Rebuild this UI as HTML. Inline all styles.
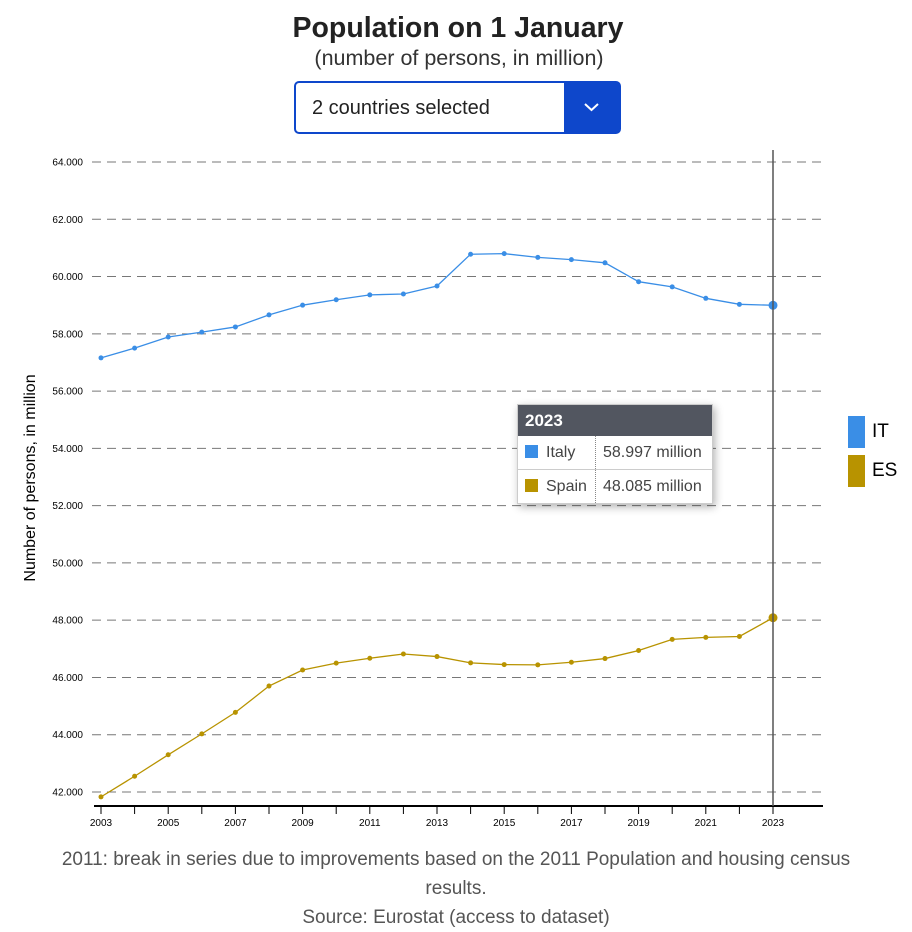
<!DOCTYPE html>
<html><head><meta charset="utf-8"><style>
body{margin:0;width:912px;height:913px;overflow:hidden;background:#fff;font-family:"Liberation Sans",sans-serif;position:relative}
.abs{position:absolute}
</style></head><body>
<div class="abs" style="left:0;width:916px;top:12px;text-align:center;font-size:28.5px;font-weight:bold;color:#222">Population on 1 January</div>
<div class="abs" style="left:0;width:918px;top:46px;text-align:center;font-size:21.5px;color:#333">(number of persons, in million)</div>
<div class="abs" style="left:294px;top:81px;width:327px;height:53px;border:2px solid #0e47cb;border-radius:5px;box-sizing:border-box;background:#fff">
<span style="position:absolute;left:16px;top:14px;font-size:20px;color:#222">2 countries selected</span>
<div style="position:absolute;right:0;top:0;width:55px;height:49px;background:#0e47cb">
<svg width="55" height="49"><polyline points="21,21 27.5,27 34,21" fill="none" stroke="#fff" stroke-width="2"/></svg></div></div>
<svg class="abs" style="left:0;top:0" width="912" height="913" id="chart">
<text transform="translate(35,478) rotate(-90)" text-anchor="middle" font-size="16" fill="#000">Number of persons, in million</text>
<g id="grid"></g><g id="xaxis"></g><g id="series"></g>
<line x1="773" y1="150" x2="773" y2="806" stroke="#555" stroke-width="1.5"/>
</svg>
<div class="abs" style="left:517px;top:404px;width:194px;background:#fff;border:1px solid #ccc;box-shadow:2px 3px 8px rgba(0,0,0,.3);font-size:16px;color:#444">
<div style="background:#525660;color:#fff;font-weight:bold;font-size:17px;height:31px;line-height:31px;padding-left:7px">2023</div>
<div style="height:33px;line-height:33px;border-bottom:1px solid #ccc;display:flex"><div style="width:78px;border-right:1px dotted #888;padding-left:7px;box-sizing:border-box"><span style="display:inline-block;width:13px;height:13px;background:#3a8ee6;margin-right:8px;vertical-align:-1px"></span>Italy</div><div style="padding-left:7px">58.997 million</div></div>
<div style="height:33px;line-height:33px;display:flex"><div style="width:78px;border-right:1px dotted #888;padding-left:7px;box-sizing:border-box"><span style="display:inline-block;width:13px;height:13px;background:#b89300;margin-right:8px;vertical-align:-1px"></span>Spain</div><div style="padding-left:7px">48.085 million</div></div>
</div>
<div class="abs" style="left:848px;top:416px"><span style="display:inline-block;width:17px;height:32px;background:#3a8ee6;vertical-align:middle"></span><span style="font-size:19px;margin-left:7px;vertical-align:middle">IT</span></div>
<div class="abs" style="left:848px;top:455px"><span style="display:inline-block;width:17px;height:32px;background:#b89300;vertical-align:middle"></span><span style="font-size:19px;margin-left:7px;vertical-align:middle">ES</span></div>
<div class="abs" style="left:30px;width:852px;top:845px;text-align:center;font-size:19px;line-height:29px;color:#555">2011: break in series due to improvements based on the 2011 Population and housing census results.<br>Source: Eurostat (access to dataset)</div>
<script>
const years=[2003,2004,2005,2006,2007,2008,2009,2010,2011,2012,2013,2014,2015,2016,2017,2018,2019,2020,2021,2022,2023];
const italy=[57.16,57.5,57.89,58.06,58.24,58.66,59.0,59.19,59.36,59.39,59.67,60.78,60.80,60.67,60.59,60.48,59.82,59.64,59.24,59.03,58.997];
const spain=[41.83,42.55,43.30,44.03,44.78,45.70,46.26,46.50,46.67,46.82,46.73,46.51,46.45,46.44,46.53,46.66,46.94,47.33,47.40,47.43,48.085];
const yTicks=[42,44,46,48,50,52,54,56,58,60,62,64];
const ns="http://www.w3.org/2000/svg";
const X=v=>101+(v-2003)*33.6, Y=v=>792-(v-42)*(630/22);
function mk(t,a,p){const e=document.createElementNS(ns,t);for(const k in a)e.setAttribute(k,a[k]);p.appendChild(e);return e;}
const grid=document.getElementById('grid'),xa=document.getElementById('xaxis'),se=document.getElementById('series');
yTicks.forEach(v=>{
 const l=mk('line',{x1:92,x2:823,y1:Y(v),y2:Y(v),stroke:'#777','stroke-dasharray':'9,6'},grid);
 
 
 const t=mk('text',{x:83,y:Y(v)+3.5,'text-anchor':'end','font-size':'10',fill:'#000'},grid);
 t.textContent=v+'.000';
 
 
});
const ax=mk('line',{x1:94,x2:823,y1:806,y2:806,stroke:'#000','stroke-width':2},xa);


years.forEach((yr,i)=>{
 mk('line',{x1:X(yr),x2:X(yr),y1:806,y2:814,stroke:'#000','stroke-width':1},xa);
 if(i%2==0){const t=mk('text',{x:X(yr),y:826,'text-anchor':'middle','font-size':'10',fill:'#000'},xa);t.textContent=yr;
 
 }
});
function draw(vals,col,name){
 const pl=mk('polyline',{points:vals.map((v,i)=>X(years[i])+','+Y(v)).join(' '),fill:'none',stroke:col,'stroke-width':1.3},se);
 
 
 vals.forEach((v,i)=>{const c=mk('circle',{cx:X(years[i]),cy:Y(v),r:i==vals.length-1?4.5:2.5,fill:col},se);
 
 });
}
draw(italy,'#3a8ee6','italy');
draw(spain,'#b89300','spain');
</script>
</body></html>
